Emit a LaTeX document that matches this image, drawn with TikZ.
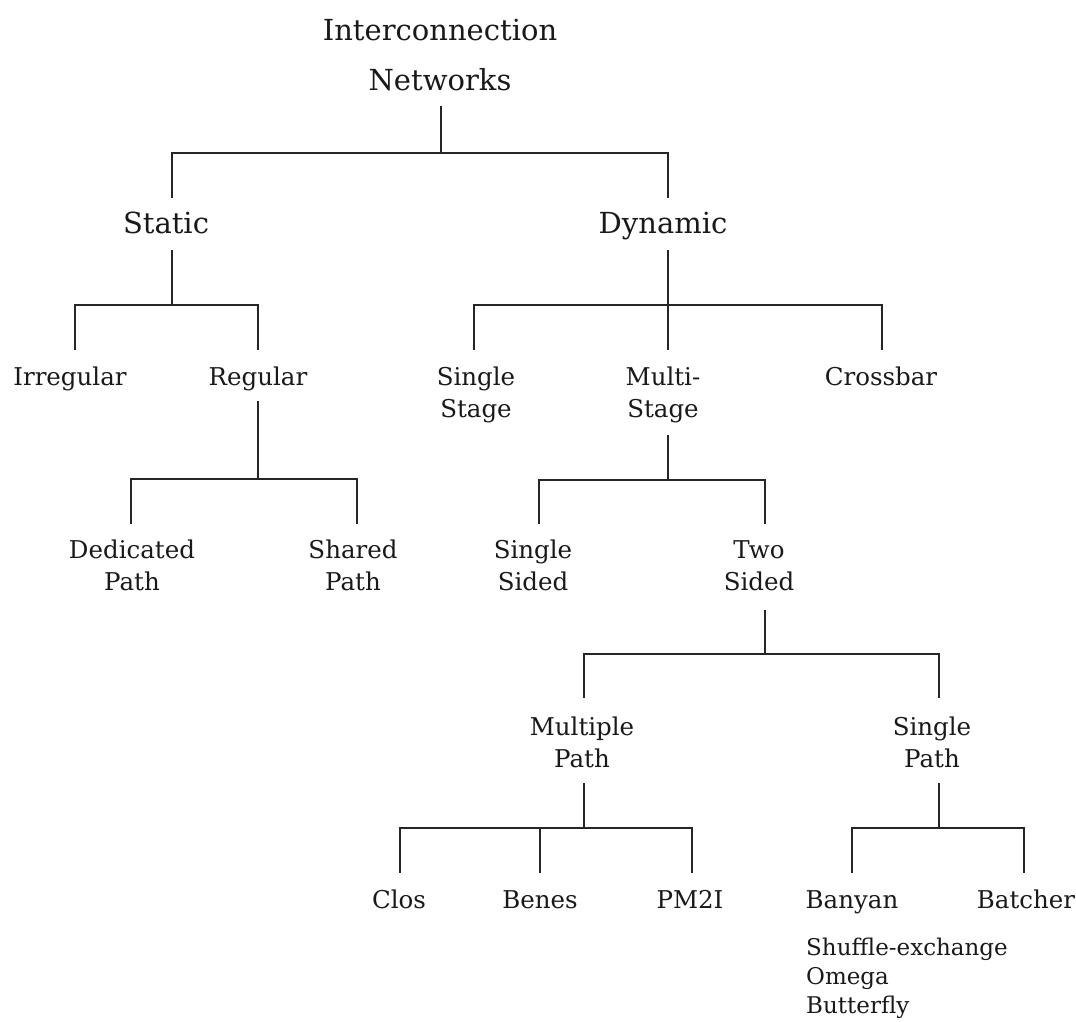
\documentclass[tikz,border=0pt]{standalone}
\usepackage{fontspec}
\setmainfont{DejaVu Serif}
\newcommand{\twoline}[2]{\begin{tabular}[t]{@{}c@{}}#1\\#2\end{tabular}}
\begin{document}
\begin{tikzpicture}[x=1pt,y=-1pt,
  link/.style={line width=2pt, draw=black!85},
  lbl/.style={inner sep=0pt, anchor=base, text=black!90},
  big/.style={lbl, font=\fontsize{29}{50}\selectfont},
  mid/.style={lbl, font=\fontsize{24.5}{32}\selectfont},
  small/.style={lbl, anchor=base west, font=\fontsize{23}{29}\selectfont}]
\useasboundingbox (0,0) rectangle (1076,1021);

% labels
\node[big] (root)     at (440,40)  {\twoline{Interconnection}{Networks}};
\node[big] (static)   at (166,233) {Static};
\node[big] (dynamic)  at (663,233) {Dynamic};
\node[mid] (irregular) at (70,385) {Irregular};
\node[mid] (regular)  at (258,385) {Regular};
\node[mid] (sstage)   at (476,385) {\twoline{Single}{Stage}};
\node[mid] (mstage)   at (663,385) {\twoline{Multi-}{Stage}};
\node[mid] (crossbar) at (881,385) {Crossbar};
\node[mid] (dedicated) at (132,558) {\twoline{Dedicated}{Path}};
\node[mid] (shared)   at (353,558) {\twoline{Shared}{Path}};
\node[mid] (ssided)   at (533,558) {\twoline{Single}{Sided}};
\node[mid] (tsided)   at (759,558) {\twoline{Two}{Sided}};
\node[mid] (mpath)    at (582,735) {\twoline{Multiple}{Path}};
\node[mid] (spath)    at (932,735) {\twoline{Single}{Path}};
\node[mid] (clos)     at (399,908) {Clos};
\node[mid] (benes)    at (540,908) {Benes};
\node[mid] (pm2i)     at (690,908) {PM2I};
\node[mid] (banyan)   at (852,908) {Banyan};
\node[mid] (batcher)  at (1026,908) {Batcher};
\node[small] (banyankinds) at (806,955)
  {\begin{tabular}[t]{@{}l@{}}Shuffle-exchange\\Omega\\Butterfly\end{tabular}};

% stub ends and bars
\coordinate (root-s) at (441,106);   \coordinate (root-bar) at (441,153);
\coordinate (static-n) at (172,198); \coordinate (dynamic-n) at (668,198);
\coordinate (static-s) at (172,250); \coordinate (static-bar) at (172,305);
\coordinate (irregular-n) at (75,350); \coordinate (regular-n) at (258,350);
\coordinate (dynamic-s) at (668,250); \coordinate (dynamic-bar) at (668,305);
\coordinate (sstage-n) at (474,350); \coordinate (mstage-n) at (668,350);
\coordinate (crossbar-n) at (882,350);
\coordinate (regular-s) at (258,401); \coordinate (regular-bar) at (258,479);
\coordinate (dedicated-n) at (131,524); \coordinate (shared-n) at (357,524);
\coordinate (mstage-s) at (668,435); \coordinate (mstage-bar) at (668,480);
\coordinate (ssided-n) at (539,524); \coordinate (tsided-n) at (765,524);
\coordinate (tsided-s) at (765,610); \coordinate (tsided-bar) at (765,654);
\coordinate (mpath-n) at (584,698); \coordinate (spath-n) at (939,698);
\coordinate (mpath-s) at (584,783); \coordinate (mpath-bar) at (584,828);
\coordinate (clos-n) at (400,873); \coordinate (benes-n) at (540,873);
\coordinate (pm2i-n) at (692,873);
\coordinate (spath-s) at (939,783); \coordinate (spath-bar) at (939,828);
\coordinate (banyan-n) at (852,873); \coordinate (batcher-n) at (1024,873);

% connectors
\draw[link] (root-s) -- (root-bar);
\draw[link] (static-n) |- (root-bar) -| (dynamic-n);

\draw[link] (static-s) -- (static-bar);
\draw[link] (irregular-n) |- (static-bar) -| (regular-n);

\draw[link] (dynamic-s) -- (mstage-n);
\draw[link] (sstage-n) |- (dynamic-bar) -| (crossbar-n);

\draw[link] (regular-s) -- (regular-bar);
\draw[link] (dedicated-n) |- (regular-bar) -| (shared-n);

\draw[link] (mstage-s) -- (mstage-bar);
\draw[link] (ssided-n) |- (mstage-bar) -| (tsided-n);

\draw[link] (tsided-s) -- (tsided-bar);
\draw[link] (mpath-n) |- (tsided-bar) -| (spath-n);

\draw[link] (mpath-s) -- (mpath-bar);
\draw[link] (clos-n) |- (mpath-bar) -| (pm2i-n);
\draw[link] (benes-n) -- (benes-n |- mpath-bar);

\draw[link] (spath-s) -- (spath-bar);
\draw[link] (banyan-n) |- (spath-bar) -| (batcher-n);
\end{tikzpicture}
\end{document}
